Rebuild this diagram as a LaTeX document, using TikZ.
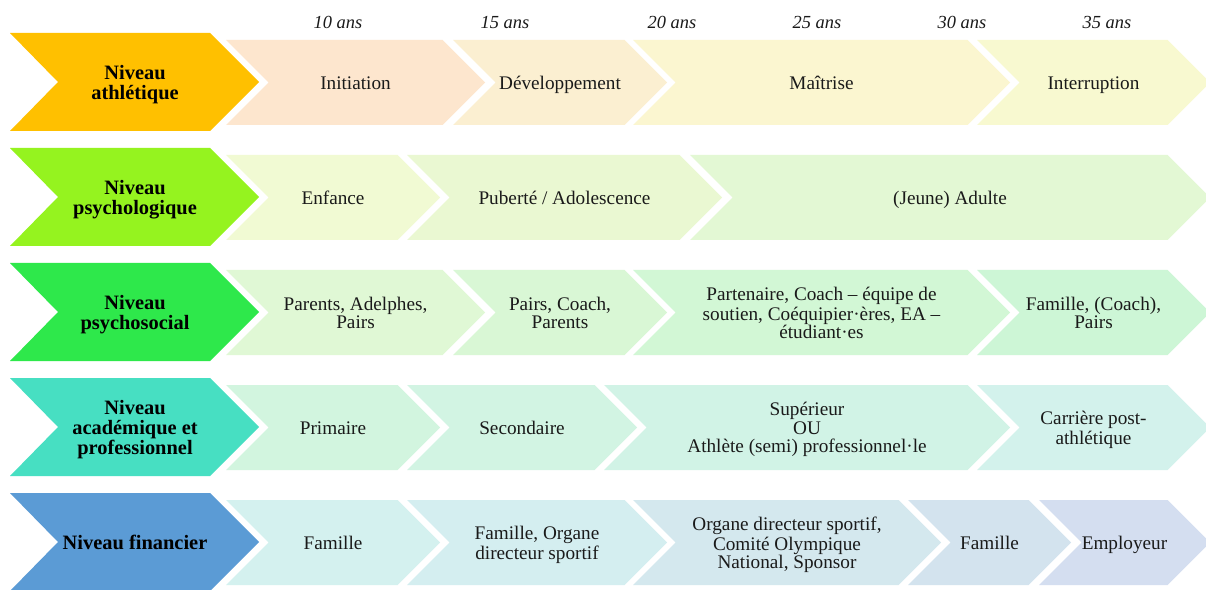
\documentclass[tikz,border=0pt]{standalone}
\usepackage{fontspec}
\setmainfont{Liberation Serif}
\definecolor{txt}{HTML}{1A1A1A}
\definecolor{bA}{HTML}{FFC000}
\definecolor{bB}{HTML}{95F31F}
\definecolor{bC}{HTML}{2EE84B}
\definecolor{bD}{HTML}{47DFC2}
\definecolor{bE}{HTML}{5B9BD5}
\definecolor{a1}{HTML}{FDE6CE}
\definecolor{a2}{HTML}{FBEFD1}
\definecolor{a3}{HTML}{FBF6D0}
\definecolor{a4}{HTML}{F8F9D0}
\definecolor{p1}{HTML}{F1FAD3}
\definecolor{p2}{HTML}{EAF8D2}
\definecolor{p3}{HTML}{E3F8D4}
\definecolor{s1}{HTML}{E0F8D5}
\definecolor{s2}{HTML}{D9F7D5}
\definecolor{s3}{HTML}{D2F7D5}
\definecolor{s4}{HTML}{CDF6D6}
\definecolor{c1}{HTML}{D2F5DF}
\definecolor{c2}{HTML}{D2F4E3}
\definecolor{c3}{HTML}{D1F3E6}
\definecolor{c4}{HTML}{D3F2EC}
\definecolor{f1}{HTML}{D4F1EF}
\definecolor{f2}{HTML}{D4EEF0}
\definecolor{f3}{HTML}{D4E8EE}
\definecolor{f4}{HTML}{D3E3EE}
\definecolor{f5}{HTML}{D4DEF0}
\newcommand\tightlines{\lineskiplimit=-20pt\relax}
\tikzset{
  lbl/.style={text=txt, align=center, inner sep=0pt, yshift=-3bp,
    font=\fontsize{19.3}{18.5}\selectfont},
  head/.style={lbl, font=\itshape\fontsize{18.5}{19}\selectfont},
  big/.style={lbl, text=black, font=\bfseries\fontsize{20.5}{16.5}\selectfont}
}
% #1 name, #2 top, #3 start x, #4 tip x, #5 colour, #6 text
\newcommand\stripseg[6]{%
  \fill[#5] (#3,#2) -- ({#4-42.5},#2) -- (#4,{#2+42.5}) -- ({#4-42.5},{#2+85})
     -- (#3,{#2+85}) -- ({#3+42.5},{#2+42.5}) -- cycle;
  \node[lbl] (#1) at ({(#3+#4)/2},{#2+42.5}) {\tightlines\strut#6\strut};}
% #1 name, #2 top, #3 colour, #4 text
\newcommand\bigchev[4]{%
  \fill[#3] (10,#2) -- (210,#2) -- (259,{#2+49}) -- (210,{#2+98}) -- (10,{#2+98})
     -- (58,{#2+49}) -- cycle;
  \node[big] (#1) at (135,{#2+49}) {\tightlines\strut#4\strut};}
\begin{document}
\begin{tikzpicture}[x=1bp,y=-1bp]
\useasboundingbox[fill=white] (0,0) rectangle (1206,590);
% headers
\node[head] (h10) at (338,22) {\strut10 ans};
\node[head] (h15) at (505,22) {\strut15 ans};
\node[head] (h20) at (672,22) {\strut20 ans};
\node[head] (h25) at (817,22) {\strut25 ans};
\node[head] (h30) at (962,22) {\strut30 ans};
\node[head] (h35) at (1107,22) {\strut35 ans};
% row 1
\bigchev{L1}{33}{bA}{Niveau\\athlétique}
\stripseg{r1a}{40}{226}{485}{a1}{Initiation}
\stripseg{r1b}{40}{453}{667}{a2}{Développement}
\stripseg{r1c}{40}{633}{1010}{a3}{Maîtrise}
\stripseg{r1d}{40}{977}{1210}{a4}{Interruption}
% row 2
\bigchev{L2}{148}{bB}{Niveau\\psychologique}
\stripseg{r2a}{155}{226}{440}{p1}{Enfance}
\stripseg{r2b}{155}{407}{722}{p2}{Puberté / Adolescence}
\stripseg{r2c}{155}{690}{1210}{p3}{(Jeune) Adulte}
% row 3
\bigchev{L3}{263}{bC}{Niveau\\psychosocial}
\stripseg{r3a}{270}{226}{485}{s1}{Parents, Adelphes,\\Pairs}
\stripseg{r3b}{270}{453}{667}{s2}{Pairs, Coach,\\Parents}
\stripseg{r3c}{270}{633}{1010}{s3}{Partenaire, Coach – équipe de\\soutien, Coéquipier·ères, EA –\\étudiant·es}
\stripseg{r3d}{270}{977}{1210}{s4}{Famille, (Coach),\\Pairs}
% row 4
\bigchev{L4}{378}{bD}{Niveau\\académique et\\professionnel}
\stripseg{r4a}{385}{226}{440}{c1}{Primaire}
\stripseg{r4b}{385}{407}{637}{c2}{Secondaire}
\stripseg{r4c}{385}{604}{1010}{c3}{Supérieur\\OU\\Athlète (semi) professionnel·le}
\stripseg{r4d}{385}{977}{1210}{c4}{Carrière post-\\athlétique}
% row 5
\bigchev{L5}{493}{bE}{Niveau financier}
\stripseg{r5a}{500}{226}{440}{f1}{Famille}
\stripseg{r5b}{500}{407}{667}{f2}{Famille, Organe\\directeur sportif}
\stripseg{r5c}{500}{633}{941}{f3}{Organe directeur sportif,\\Comité Olympique\\National, Sponsor}
\stripseg{r5d}{500}{908}{1071}{f4}{Famille}
\stripseg{r5e}{500}{1039}{1210}{f5}{Employeur}
\end{tikzpicture}
\end{document}
